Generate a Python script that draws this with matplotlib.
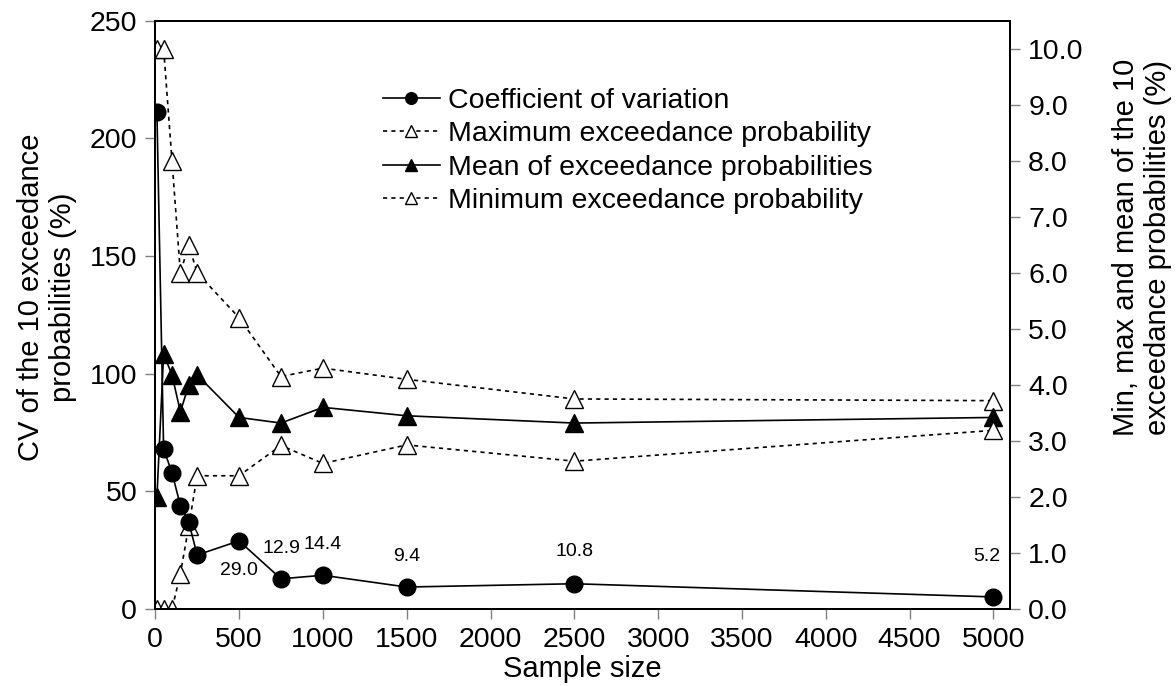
import numpy as np
import matplotlib
matplotlib.use("Agg")
import matplotlib.pyplot as plt
from matplotlib.ticker import FormatStrFormatter

plt.rcParams['font.family'] = ['Liberation Sans', 'DejaVu Sans']

# sample sizes
n = [10, 50, 100, 150, 200, 250, 500, 750, 1000, 1500, 2500, 5000]

# coefficient of variation (%), left axis
cv = [211, 68, 58, 44, 37, 23, 29.0, 12.9, 14.4, 9.4, 10.8, 5.2]

# exceedance probabilities (%), right axis
pmax = [10.0, 10.0, 8.0, 6.0, 6.5, 6.0, 5.2, 4.15, 4.3, 4.1, 3.75, 3.72]
pmean = [2.0, 4.55, 4.18, 3.52, 4.0, 4.18, 3.42, 3.32, 3.6, 3.45, 3.32, 3.42]
pmin = [0.0, 0.0, 0.0, 0.63, 1.48, 2.38, 2.38, 2.92, 2.6, 2.93, 2.64, 3.19]

# labelled CV points: index, offset in points
cv_labels = [(6, (0, -21)), (7, (0, 22)), (8, (0, 22)),
             (9, (0, 22)), (10, (0, 23)), (11, (-5, 29))]

fig = plt.figure(figsize=(11.76, 6.86), dpi=100)
ax = fig.add_axes([0.132, 0.112, 0.727, 0.858])
ax2 = ax.twinx()

fs = 20.5
ms = 12
dots = (0, (2.5, 2.5))

h1, = ax.plot(n, cv, '-', color='black', lw=1.2, marker='o', ms=ms,
              mfc='black', mec='black', label='Coefficient of variation', zorder=5)
h2, = ax2.plot(n, pmax, linestyle=dots, color='black', lw=1.2, marker='^', ms=ms + 1,
               mfc='white', mec='black', label='Maximum exceedance probability')
h3, = ax2.plot(n, pmean, '-', color='black', lw=1.2, marker='^', ms=ms + 1,
               mfc='black', mec='black', label='Mean of exceedance probabilities')
h4, = ax2.plot(n, pmin, linestyle=dots, color='black', lw=1.2, marker='^', ms=ms + 1,
               mfc='white', mec='black', label='Minimum exceedance probability')

for i, off in cv_labels:
    ax.annotate('%.1f' % cv[i], (n[i], cv[i]), xytext=off,
                textcoords='offset points', ha='center', va='center', fontsize=14)

ax.set_xlim(0, 5100)
ax.set_ylim(0, 250)
ax2.set_ylim(0, 10.5)
ax.set_xticks(np.arange(0, 5001, 500))
ax.set_yticks(np.arange(0, 251, 50))
ax2.set_yticks(np.arange(0, 10.1, 1))
ax2.yaxis.set_major_formatter(FormatStrFormatter('%.1f'))

for a in (ax, ax2):
    a.tick_params(direction='out', length=7, width=1, color='#808080',
                  labelsize=fs, pad=6)
    for s in a.spines.values():
        s.set_linewidth(1.4)

# CV series drawn over right-axis lines
ax.set_zorder(ax2.get_zorder() + 1)
ax.patch.set_visible(False)

ax.set_xlabel('Sample size', fontsize=21, labelpad=1)
ax.set_ylabel('CV of the 10 exceedance\nprobabilities (%)', fontsize=21)
ax2.set_ylabel('Min, max and mean of the 10\nexceedance probabilities (%)',
               fontsize=21)
ax.yaxis.set_label_coords(-0.091, 0.53)
ax2.yaxis.set_label_coords(1.119, 0.615)

leg = ax.legend(handles=[h1, h2, h3, h4], loc='upper left',
                bbox_to_anchor=(0.236, 0.929), frameon=False, fontsize=20.5,
                handlelength=2.0, handletextpad=0.3, labelspacing=0.26,
                markerscale=0.7)

fig.savefig('out.png', dpi=100)
